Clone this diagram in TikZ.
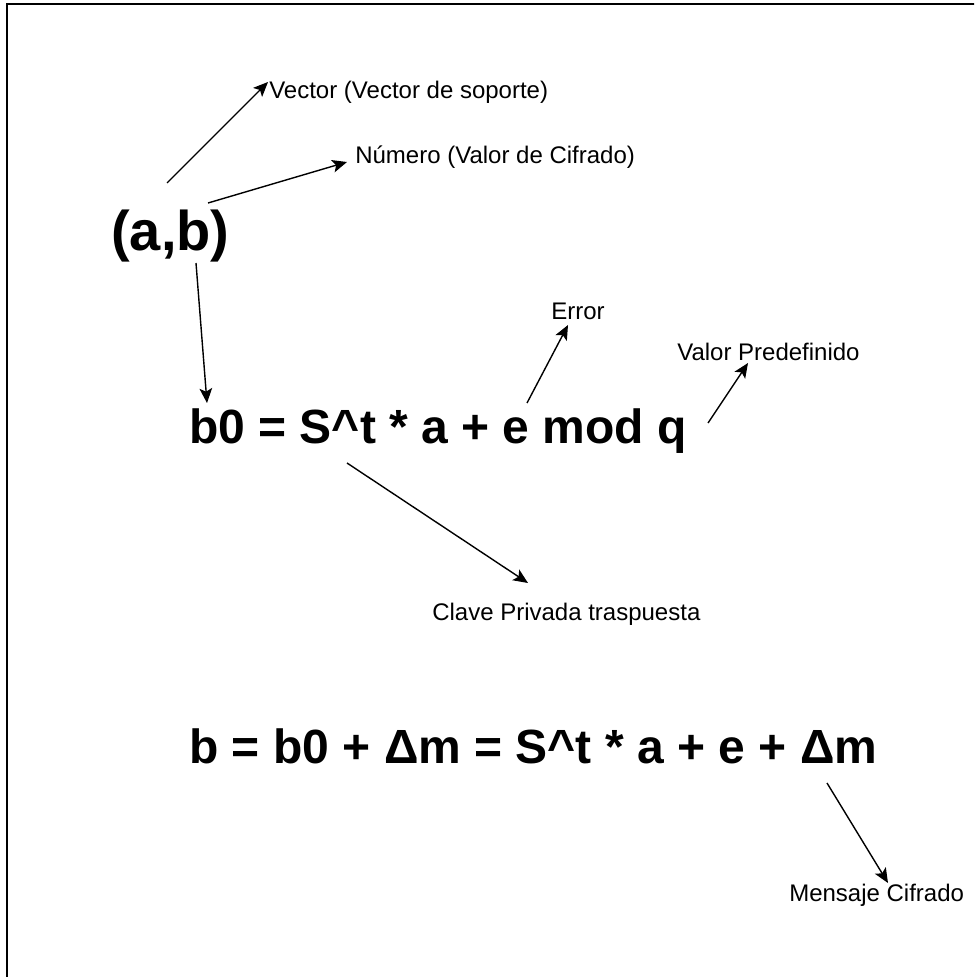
\documentclass[tikz,border=0pt]{standalone}
\usepackage{fontspec}
\setmainfont{Liberation Sans}
\usetikzlibrary{arrows.meta}
\begin{document}
\begin{tikzpicture}[
		x=0.75pt, y=-0.75pt,
		marco/.style={line width=1.7pt, black},
		freccia/.style={-{Stealth[length=11pt, width=9.5pt, inset=2.5pt]}, line width=1.05pt, black},
		etq/.style={font=\fontsize{18}{21}\selectfont, inner sep=0pt, anchor=base west},
		formula/.style={font=\fontsize{36}{43}\selectfont\bfseries, inner sep=0pt, anchor=base west},
		par/.style={font=\fontsize{42}{50}\selectfont\bfseries, inner sep=0pt, anchor=base west},
	]
	
	\useasboundingbox (0,0) rectangle (974,977);
	\clip (0,0) rectangle (974,977);
	
	% cornice (tagliata a destra e in basso)
	\draw[marco] (7,4) rectangle (1010,1010);
	
	%%=== coppia (a,b) e sue etichette ===
	\node[par]  (ab)      at (111,250) {(a,b)};
	\node[etq]  (vector)  at (269,99)  {Vector (Vector de soporte)};
	\node[etq]  (numero)  at (355,164) {Número (Valor de Cifrado)};
	
	%%=== prima equazione ===
	\node[formula] (b0)     at (189,443) {b0 = S\^{}t * a + e mod q};
	\node[etq]     (error)  at (551,319) {Error};
	\node[etq]     (valor)  at (677,360) {Valor Predefinido};
	\node[etq]     (clave)  at (432,620) {Clave Privada traspuesta};
	
	%%=== seconda equazione ===
	\node[formula] (bfin)    at (189,763) {b = b0 + Δm = S\^{}t * a + e + Δm};
	\node[etq]     (mensaje) at (789,901) {Mensaje Cifrado};
	
	% estremi liberi delle frecce
	\coordinate (ab-v)   at (167,183);
	\coordinate (ab-n)   at (208,203);
	\coordinate (ab-b)   at (196,263);
	\coordinate (b0-s)   at (207,403);
	\coordinate (b0-e)   at (527,403);
	\coordinate (err-t)  at (568,325);
	\coordinate (b0-q)   at (708,423);
	\coordinate (val-t)  at (748,363);
	\coordinate (b0-st)  at (347,463);
	\coordinate (cl-t)   at (528,583);
	\coordinate (dm-s)   at (827,783);
	\coordinate (men-t)  at (888,883);
	\coordinate (vec-t)  at (268,82);
	\coordinate (num-t)  at (347,162);
	
	\draw[freccia] (ab-v) -- (vec-t);
	\draw[freccia] (ab-n) -- (num-t);
	\draw[freccia] (ab-b) -- (b0-s);
	\draw[freccia] (b0-e) -- (err-t);
	\draw[freccia] (b0-q) -- (val-t);
	\draw[freccia] (b0-st) -- (cl-t);
	\draw[freccia] (dm-s) -- (men-t);
	
\end{tikzpicture}
\end{document}
